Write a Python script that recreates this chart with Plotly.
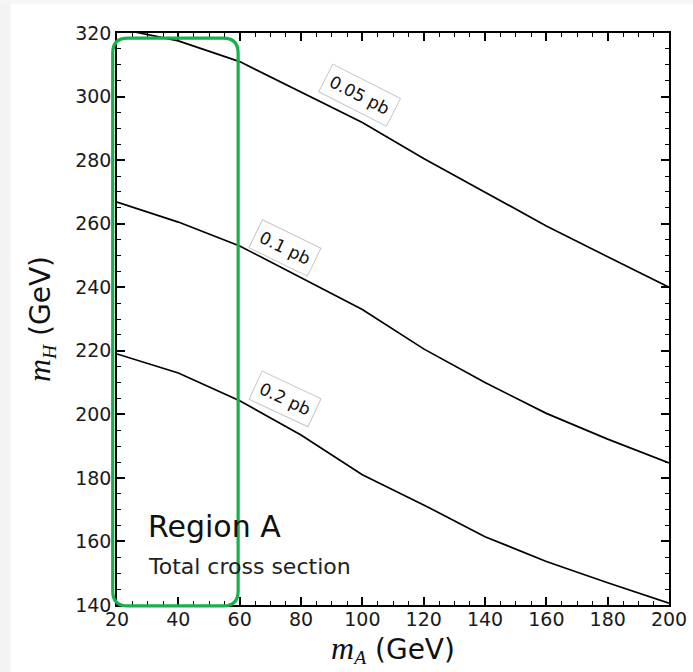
import plotly.graph_objects as go

# ---- data ----
m_A = [20, 40, 60, 80, 100, 120, 140, 160, 180, 200]
m_H_005pb = [321.5, 317.5, 311.0, 301.5, 291.8, 280.5, 270.0, 259.3, 249.6, 240.0]
m_H_01pb = [266.8, 260.5, 253.0, 243.0, 233.0, 220.6, 210.0, 200.3, 192.2, 184.7]
m_H_02pb = [219.0, 213.0, 204.3, 193.5, 181.0, 171.5, 161.5, 153.7, 147.0, 140.6]
contour_labels = ["0.05 pb", "0.1 pb", "0.2 pb"]

# label placement (layout, not data)
label_pos = [(99.0, 300.4, 27), (74.8, 252.4, 26), (74.8, 204.8, 25)]

X_RANGE = [20, 200]
Y_RANGE = [140, 320]
TICKS_X = list(range(20, 201, 20))
TICKS_Y = list(range(140, 321, 20))

FONT = "DejaVu Sans"

fig = go.Figure()
for ys in (m_H_005pb, m_H_01pb, m_H_02pb):
    fig.add_trace(go.Scatter(x=m_A, y=ys, mode="lines",
                             line=dict(color="black", width=1.7),
                             showlegend=False, hoverinfo="skip"))

for (lx, ly, ang), txt in zip(label_pos, contour_labels):
    fig.add_annotation(x=lx, y=ly, xref="x", yref="y", text=txt, showarrow=False,
                       textangle=ang, font=dict(family=FONT, size=17, color="#111"),
                       bgcolor="white", bordercolor="#c8c8c8", borderwidth=1, borderpad=5)

# Text block
fig.add_annotation(x=29.5, y=158.5, xref="x", yref="y", text="Region A", showarrow=False,
                   xanchor="left", yanchor="bottom", font=dict(family=FONT, size=30, color="#111"))
fig.add_annotation(x=29.5, y=156.8, xref="x", yref="y", text="Total cross section", showarrow=False,
                   xanchor="left", yanchor="top", font=dict(family=FONT, size=22, color="#222"))

# Green rounded highlight box (drawn in paper coordinates so it is not clipped)
def px(xv):
    return (xv - X_RANGE[0]) / (X_RANGE[1] - X_RANGE[0])

def py(yv):
    return (yv - Y_RANGE[0]) / (Y_RANGE[1] - Y_RANGE[0])

W_PLOT, H_PLOT = 552.0, 572.0
bx0, bx1 = px(18.6), px(59.5)
by0, by1 = py(139.7), py(318.4)
r = 15
rx, ry = r / W_PLOT, r / H_PLOT
path = (f"M {bx0+rx},{by1} L {bx1-rx},{by1} Q {bx1},{by1} {bx1},{by1-ry} "
        f"L {bx1},{by0+ry} Q {bx1},{by0} {bx1-rx},{by0} "
        f"L {bx0+rx},{by0} Q {bx0},{by0} {bx0},{by0+ry} "
        f"L {bx0},{by1-ry} Q {bx0},{by1} {bx0+rx},{by1} Z")
fig.add_shape(type="path", path=path, xref="paper", yref="paper",
              line=dict(color="#16b14c", width=3.2), layer="above")

# faint frame of the original screenshot
fig.add_shape(type="rect", xref="paper", yref="paper", x0=-0.215, x1=-0.193, y0=-0.13, y1=1.07,
              fillcolor="#f3f3f3", line=dict(width=0), layer="below")
fig.add_shape(type="rect", xref="paper", yref="paper", x0=-0.215, x1=1.05, y0=1.051, y1=1.07,
              fillcolor="#f6f6f6", line=dict(width=0), layer="below")

axis_common = dict(
    showline=True, linecolor="black", linewidth=1.6, mirror="allticks",
    ticks="inside", ticklen=8, tickwidth=1.6, tickcolor="black",
    minor=dict(ticks="inside", ticklen=4, tickwidth=1.3, tickcolor="black", dtick=5),
    showgrid=False, zeroline=False,
    tickfont=dict(family=FONT, size=19, color="#1a1a1a"),
)

fig.update_xaxes(range=X_RANGE, tickvals=TICKS_X, **axis_common, ticklabelstandoff=-4,
                 title=dict(text="<span style='font-family:Liberation Serif;font-size:32px'><i>m</i></span><sub><span style='font-family:Liberation Serif'><i>A</i></span></sub> (GeV)",
                            font=dict(family=FONT, size=28, color="#111"), standoff=4))
fig.update_yaxes(range=Y_RANGE, tickvals=TICKS_Y, **axis_common,
                 title=dict(text="<span style='font-family:Liberation Serif;font-size:32px'><i>m</i></span><sub><span style='font-family:Liberation Serif'><i>H</i></span></sub> (GeV)",
                            font=dict(family=FONT, size=28, color="#111"), standoff=16))

fig.update_layout(
    width=693, height=672,
    margin=dict(l=117, r=24, t=33, b=67, autoexpand=False),
    paper_bgcolor="white", plot_bgcolor="white",
    showlegend=False,
)

fig.write_html("out.html")
